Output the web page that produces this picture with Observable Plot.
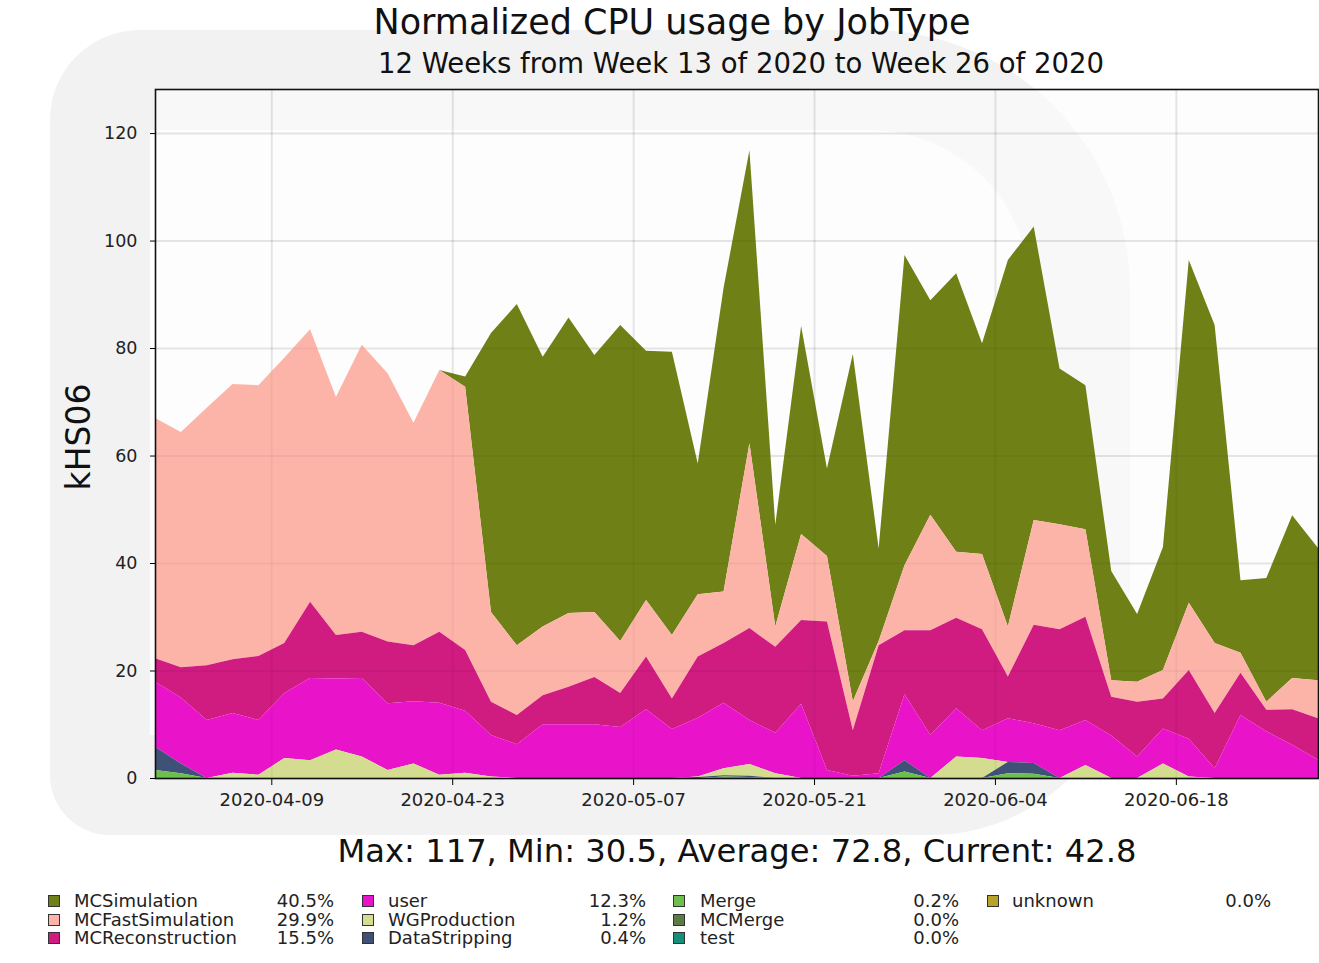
<!DOCTYPE html>
<html>
<head>
<meta charset="utf-8">
<script src="https://cdn.jsdelivr.net/npm/d3@7"></script>
<script src="https://cdn.jsdelivr.net/npm/@observablehq/plot@0.6"></script>
<style>
  body { margin: 0; background: #fff; font-family: "DejaVu Sans", sans-serif; color: #111; }
  #wrap { position: relative; width: 1319px; height: 963px; overflow: hidden; background: #fff; }
  #mark { position: absolute; left: 50px; top: 30px; width: 1080px; height: 805px; box-sizing: border-box;
          border: 100px solid #f2f2f2; border-radius: 90px 260px 200px 60px; }
  #chart { position: absolute; left: 0; top: 0; }
  .txt { position: absolute; white-space: nowrap; line-height: 1; }
  #title { left: 0; width: 1344px; top: 5px; text-align: center; font-size: 35px; }
  #subtitle { left: 0; width: 1482px; top: 50px; text-align: center; font-size: 27.5px; }
  #stats { left: 0; width: 1474px; top: 835px; text-align: center; font-size: 32.2px; }
  #ylabel { left: 78px; top: 437px; font-size: 33px; transform: translate(-50%, -50%) rotate(-90deg); }
  .leg { position: absolute; font-size: 18px; line-height: 16px; height: 16px; white-space: nowrap; color: #222; }
  .sw { position: absolute; width: 12px; height: 12px; border: 1px solid #333; box-sizing: border-box; }
</style>
</head>
<body>
<div id="wrap">
  <div id="mark"></div>
  <div id="chart"></div>
  <div class="txt" id="title">Normalized CPU usage by JobType</div>
  <div class="txt" id="subtitle">12 Weeks from Week 13 of 2020 to Week 26 of 2020</div>
  <div class="txt" id="ylabel">kHS06</div>
  <div class="txt" id="stats">Max: 117, Min: 30.5, Average: 72.8, Current: 42.8</div>
  <div id="legend"></div>
</div>
<script>
// ---- data (kHS06, 2-day bins) ----
const dates = ["2020-03-31","2020-04-02","2020-04-04","2020-04-06","2020-04-08","2020-04-10","2020-04-12","2020-04-14",
  "2020-04-16","2020-04-18","2020-04-20","2020-04-22","2020-04-24","2020-04-26","2020-04-28","2020-04-30",
  "2020-05-02","2020-05-04","2020-05-06","2020-05-08","2020-05-10","2020-05-12","2020-05-14","2020-05-16",
  "2020-05-18","2020-05-20","2020-05-22","2020-05-24","2020-05-26","2020-05-28","2020-05-30","2020-06-01",
  "2020-06-03","2020-06-05","2020-06-07","2020-06-09","2020-06-11","2020-06-13","2020-06-15","2020-06-17",
  "2020-06-19","2020-06-21","2020-06-23","2020-06-25","2020-06-27","2020-06-29"];

const mcSimulation = [0,0,0,0,0,0,0,0,0,0,0,0,1.9,51.9,63.5,50.2,55.0,47.8,58.8,46.4,52.7,24.3,56.5,54.5,18.9,38.7,16.3,64.6,17.2,57.7,39.9,51.8,39.2,68.2,54.6,29.0,26.8,20.3,12.6,22.9,63.8,59.2,13.5,23.0,30.3,24.6];
const mcFastSimulation = [44.7,43.8,47.9,51.2,50.4,53.1,50.7,44.3,53.4,49.9,41.4,48.7,49.0,16.7,13.0,12.8,13.7,12.1,9.7,10.5,11.8,11.6,9.6,34.4,3.8,16.0,12.2,5.4,0.8,12.1,21.5,12.3,14.0,9.3,19.5,19.5,16.3,3.1,3.7,5.3,12.5,13.0,3.7,1.5,5.8,7.1];
const mcReconstruction = [4.4,5.6,10.2,10.0,11.9,9.3,14.2,8.1,8.6,11.5,10.4,13.2,11.3,6.2,5.4,5.4,7.0,8.8,6.3,9.8,5.7,11.4,11.1,17.1,16.0,15.6,27.6,8.5,23.8,11.9,19.5,16.8,18.8,7.8,18.3,18.8,19.2,7.2,10.2,5.6,12.8,10.3,7.9,4.0,6.6,7.7];
const user = [12.1,12.3,10.8,11.1,10.2,12.1,15.3,13.2,14.6,12.4,11.6,13.4,11.5,7.7,6.3,10.0,10.0,10.0,9.5,12.8,9.1,10.9,12.2,8.2,7.5,13.8,1.5,0.4,0.9,12.3,8.0,9.0,5.2,8.1,7.4,8.9,8.4,7.9,4.0,6.5,7.0,1.8,11.7,8.7,6.2,3.4];
const wgProduction = [0,0,0,1.0,0.6,3.7,3.3,5.3,4.0,1.5,2.7,0.6,1.0,0.3,0,0,0,0,0,0,0,0.1,1.3,2.2,0.9,0,0,0,0,0,0,4.0,3.7,0,0,0,2.4,0,0,2.7,0.3,0,0,0,0,0];
const dataStripping = [4.3,1.8,0,0,0,0,0,0,0,0,0,0,0,0,0,0,0,0,0,0,0,0.2,0.2,0.2,0,0,0,0,0,2.1,0,0,0,2.1,2.0,0,0,0,0,0,0,0,0,0,0,0];
const merge = [1.5,0.9,0,0,0,0,0,0,0,0,0,0,0,0,0,0,0,0,0,0,0,0,0.3,0.2,0,0,0,0,0,1.2,0,0,0,0.9,0.8,0,0,0,0,0,0,0,0,0,0,0];
const mcMerge = new Array(dates.length).fill(0);
const test = new Array(dates.length).fill(0);
const unknown = new Array(dates.length).fill(0);

const jobTypes = ["MCSimulation","MCFastSimulation","MCReconstruction","user","WGProduction","DataStripping","Merge","MCMerge","test","unknown"];
const jobColors = ["#6f8016","#fdb4a8","#d01b80","#e913c9","#d4dc90","#3f5176","#6cbf4c","#5b7a44","#14907a","#b9a22b"];
const jobShares = ["40.5%","29.9%","15.5%","12.3%","1.2%","0.4%","0.2%","0.0%","0.0%","0.0%"];
const seriesValues = [mcSimulation, mcFastSimulation, mcReconstruction, user, wgProduction, dataStripping, merge, mcMerge, test, unknown];

const yTicks = [0,20,40,60,80,100,120];
const xTickLabels = ["2020-04-09","2020-04-23","2020-05-07","2020-05-21","2020-06-04","2020-06-18"];

// ---- build table ----
const parse = d3.utcParse("%Y-%m-%d");
const rows = [];
jobTypes.forEach((t, k) => {
  seriesValues[k].forEach((v, i) => rows.push({date: parse(dates[i]), type: t, value: v}));
});
const stackOrder = jobTypes.slice().reverse(); // bottom first
const xTicks = xTickLabels.map(parse);

const plot = Plot.plot({
  width: 1319,
  height: 830,
  marginTop: 89,
  marginBottom: 52,
  marginLeft: 155,
  marginRight: 1,
  style: {fontFamily: "DejaVu Sans", fontSize: "17.5px", color: "#222", background: "transparent", overflow: "visible"},
  x: {type: "utc", domain: [parse(dates[0]), parse(dates[dates.length - 1])]},
  y: {domain: [0, 128.2]},
  color: {domain: jobTypes, range: jobColors},
  marks: [
    Plot.frame({fill: "#fbfbfb", fillOpacity: 0.6, stroke: null}),
    Plot.gridY(yTicks, {stroke: "#000", strokeOpacity: 0.06, strokeWidth: 2}),
    Plot.gridX(xTicks, {stroke: "#000", strokeOpacity: 0.06, strokeWidth: 2}),
    Plot.areaY(rows, {x: "date", y: "value", fill: "type", order: stackOrder, curve: "linear"}),
    Plot.gridY(yTicks, {stroke: "#000", strokeOpacity: 0.04, strokeWidth: 2}),
    Plot.gridX(xTicks, {stroke: "#000", strokeOpacity: 0.04, strokeWidth: 2}),
    Plot.axisY(yTicks, {tickSize: 5, tickPadding: 13, label: null, stroke: "#000", fill: "#222"}),
    Plot.axisX(xTicks, {tickSize: 7, tickPadding: 8, label: null, fontSize: 18, tickFormat: d3.utcFormat("%Y-%m-%d"), stroke: "#000", fill: "#222"}),
    Plot.frame({stroke: "#111", strokeWidth: 1.6})
  ]
});
document.getElementById("chart").appendChild(plot);

// ---- legend ----
const legend = document.getElementById("legend");
const colSw = [48, 362, 673, 987];
const colLab = [74, 388, 700, 1012];
const colPct = [334, 646, 959, 1271];
const rowY = [893, 911.5, 930];
jobTypes.forEach((t, k) => {
  const c = Math.floor(k / 3), r = k % 3;
  const sw = document.createElement("div");
  sw.className = "sw";
  sw.style.left = colSw[c] + "px";
  sw.style.top = (rowY[r] + 2) + "px";
  sw.style.background = jobColors[k];
  legend.appendChild(sw);
  const lab = document.createElement("div");
  lab.className = "leg";
  lab.style.left = colLab[c] + "px";
  lab.style.top = rowY[r] + "px";
  lab.textContent = t;
  legend.appendChild(lab);
  const pct = document.createElement("div");
  pct.className = "leg";
  pct.style.left = (colPct[c] - 200) + "px";
  pct.style.width = "200px";
  pct.style.textAlign = "right";
  pct.style.top = rowY[r] + "px";
  pct.textContent = jobShares[k];
  legend.appendChild(pct);
});
</script>
</body>
</html>
